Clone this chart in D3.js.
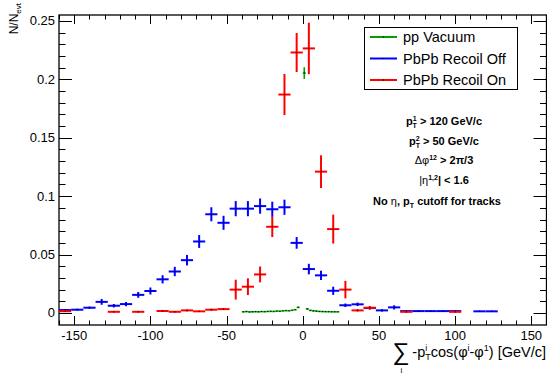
<!DOCTYPE html>
<html>
<head>
<meta charset="utf-8">
<script src="https://cdn.jsdelivr.net/npm/d3@7"></script>
<style>
  body { margin: 0; background: #fff; }
  svg { display: block; font-family: "Liberation Sans", Arial, sans-serif; }
</style>
</head>
<body>
<div id="chart"></div>
<script>
// bin centres, contents and errors
var blueX = [-156,-148,-140,-132,-124,-116,-108,-100,-92,-84,-76,-68,-60,-52,-44,-36,-28,-20,-12,-4,4,12,20,28,36,44,52,60,68,76,84,92,100,116,124];
var blueY = [0.0025,0.0028,0.0045,0.0095,0.0062,0.0076,0.0155,0.0188,0.0288,0.0355,0.0452,0.0612,0.0845,0.0772,0.0893,0.0893,0.0915,0.0888,0.0905,0.0600,0.0376,0.0322,0.0190,0.0066,0.0074,0.0042,0.0022,0.0048,0.0016,0.0016,0.0016,0.0016,0.0016,0.0014,0.0014];
var blueE = [0.0008,0.0008,0.001,0.0025,0.0015,0.0018,0.0025,0.003,0.0035,0.004,0.0045,0.0055,0.006,0.006,0.0065,0.0065,0.0065,0.0065,0.0065,0.005,0.0045,0.004,0.0035,0.0015,0.0015,0.0012,0.001,0.0018,0.0005,0.0005,0.0005,0.0005,0.0005,0.0005,0.0005];

var redX = [-156,-124,-108,-92,-84,-76,-68,-60,-52,-44,-36,-28,-20,-12,-4,4,12,20,28,36,44,68,100];
var redY = [0.0015,0.001,0.001,0.0017,0.001,0.0022,0.0014,0.0028,0.0033,0.0200,0.0225,0.0330,0.0738,0.1870,0.2230,0.2265,0.1210,0.0718,0.0200,0.0022,0.0045,0.0010,0.0010];
var redE = [0.0006,0.0006,0.0006,0.0008,0.0006,0.0008,0.0006,0.0008,0.0008,0.0085,0.0072,0.0068,0.0088,0.0176,0.0167,0.022,0.014,0.0124,0.0075,0.001,0.0015,0.0006,0.0006];

var greenX = [-39,-37,-35,-33,-31,-29,-27,-25,-23,-21,-19,-17,-15,-13,-11,-9,-7,-5,-3,1,3,5,7,9,11,13,15,17,19,21,23];
var greenY = [0.0010,0.0012,0.0009,0.0010,0.0011,0.0010,0.0012,0.0011,0.0013,0.0014,0.0013,0.0016,0.0015,0.0018,0.0020,0.0019,0.0023,0.0028,0.0048,0.2054,0.0035,0.0022,0.0018,0.0016,0.0013,0.0012,0.0011,0.0011,0.0010,0.0010,0.0010];
var greenE = [0.0002,0.0002,0.0002,0.0002,0.0002,0.0002,0.0002,0.0002,0.0002,0.0002,0.0002,0.0002,0.0002,0.0002,0.0003,0.0003,0.0003,0.0003,0.0005,0.005,0.0004,0.0003,0.0003,0.0002,0.0002,0.0002,0.0002,0.0002,0.0002,0.0002,0.0002];

var legendNames = ["pp Vacuum", "PbPb Recoil Off", "PbPb Recoil On"];
var colors = ["#00a000", "#0000ff", "#ff0000"];

var width = 547, height = 376;
var frame = {left: 59, right: 546.5, top: 15, bottom: 325};

var svg = d3.select("#chart").append("svg")
    .attr("width", width)
    .attr("height", height);

var xScale = d3.scaleLinear().domain([-160, 160]).range([frame.left, frame.right]);
var yScale = d3.scaleLinear().domain([-0.0103, 0.2551]).range([frame.bottom, frame.top]);

// frame
svg.append("rect")
  .attr("x", frame.left).attr("y", frame.top)
  .attr("width", frame.right - frame.left).attr("height", frame.bottom - frame.top)
  .attr("fill", "none").attr("stroke", "#000").attr("stroke-width", 1.3);

// ROOT style ticks, pointing inward on all four sides
var xMajor = d3.range(-150, 151, 50), xMinor = d3.range(-160, 161, 10);
var yMajor = d3.range(0, 0.2501, 0.05), yMinor = d3.range(-0.01, 0.2551, 0.01);

var ticks = svg.append("g").attr("stroke", "#000").attr("stroke-width", 1);
xMinor.forEach(function(v) {
  var major = xMajor.some(function(m) { return Math.abs(m - v) < 1e-6; });
  var len = major ? 9 : 4.5, x = Math.round(xScale(v)) + 0.5;
  ticks.append("line").attr("x1", x).attr("x2", x).attr("y1", frame.bottom).attr("y2", frame.bottom - len);
  ticks.append("line").attr("x1", x).attr("x2", x).attr("y1", frame.top).attr("y2", frame.top + len);
});
yMinor.forEach(function(v) {
  var major = yMajor.some(function(m) { return Math.abs(m - v) < 1e-6; });
  var len = major ? 13 : 6.5, y = Math.round(yScale(v)) + 0.5;
  if (y > frame.bottom || y < frame.top) return;
  ticks.append("line").attr("x1", frame.left).attr("x2", frame.left + len).attr("y1", y).attr("y2", y);
  ticks.append("line").attr("x1", frame.right).attr("x2", frame.right - len).attr("y1", y).attr("y2", y);
});

// tick labels
svg.append("g").selectAll("text").data(xMajor).enter().append("text")
  .attr("x", function(d) { return xScale(d); })
  .attr("y", 340)
  .attr("text-anchor", "middle")
  .attr("font-size", 13)
  .text(function(d) { return d; });

svg.append("g").selectAll("text").data(yMajor).enter().append("text")
  .attr("x", 55)
  .attr("y", function(d) { return yScale(d) + 4.5; })
  .attr("text-anchor", "end")
  .attr("font-size", 13)
  .text(function(d) { return d3.format("~g")(+d.toFixed(2)); });

// histograms drawn as error crosses
function drawHist(xs, ys, es, half, color, lw) {
  var g = svg.append("g");
  var pts = xs.map(function(x, i) { return {x: x, y: ys[i], e: es[i]}; });
  g.selectAll(".h").data(pts).enter().append("line")
    .attr("x1", function(d) { return xScale(d.x - half); })
    .attr("x2", function(d) { return xScale(d.x + half); })
    .attr("y1", function(d) { return yScale(d.y); })
    .attr("y2", function(d) { return yScale(d.y); })
    .attr("stroke", color).attr("stroke-width", lw);
  g.selectAll(".v").data(pts).enter().append("line")
    .attr("x1", function(d) { return xScale(d.x); })
    .attr("x2", function(d) { return xScale(d.x); })
    .attr("y1", function(d) { return yScale(d.y - d.e); })
    .attr("y2", function(d) { return yScale(d.y + d.e); })
    .attr("stroke", color).attr("stroke-width", lw);
  g.selectAll(".m").data(pts).enter().append("rect")
    .attr("x", function(d) { return xScale(d.x) - 0.5; })
    .attr("y", function(d) { return yScale(d.y) - 0.5; })
    .attr("width", 1).attr("height", 1)
    .attr("fill", "#000");
}
drawHist(greenX, greenY, greenE, 1, colors[0], 1.6);
drawHist(blueX, blueY, blueE, 4, colors[1], 2);
drawHist(redX, redY, redE, 4, colors[2], 2);

// legend
var leg = svg.append("g");
leg.append("rect").attr("x", 364.5).attr("y", 27.5).attr("width", 153).attr("height", 62)
  .attr("fill", "#fff").attr("stroke", "#000").attr("stroke-width", 1);
legendNames.forEach(function(name, i) {
  var cy = 37 + i * 21.5;
  leg.append("line").attr("x1", 370).attr("x2", 397).attr("y1", cy).attr("y2", cy)
    .attr("stroke", colors[i]).attr("stroke-width", 2);
  leg.append("rect").attr("x", 383).attr("y", cy - 0.5).attr("width", 1).attr("height", 1).attr("fill", "#000");
  leg.append("text").attr("x", 403).attr("y", cy + 5).attr("font-size", 14.5).text(name);
});

// cut annotations
var notes = svg.append("g").attr("font-size", 11).attr("font-weight", "bold").attr("text-anchor", "middle");
var t1 = notes.append("text").attr("x", 444).attr("y", 125);
t1.append("tspan").text("p");
t1.append("tspan").attr("font-size", 7).attr("dy", -4).text("1");
t1.append("tspan").attr("font-size", 7).attr("dx", -4).attr("dy", 7).text("T");
t1.append("tspan").attr("dy", -3).text(" > 120 GeV/c");
var t2 = notes.append("text").attr("x", 444).attr("y", 145);
t2.append("tspan").text("p");
t2.append("tspan").attr("font-size", 7).attr("dy", -4).text("2");
t2.append("tspan").attr("font-size", 7).attr("dx", -4).attr("dy", 7).text("T");
t2.append("tspan").attr("dy", -3).text(" > 50 GeV/c");
var t3 = notes.append("text").attr("x", 444).attr("y", 164);
t3.append("tspan").attr("font-weight", "normal").text("\u0394\u03c6");
t3.append("tspan").attr("font-size", 7).attr("dy", -4).text("12");
t3.append("tspan").attr("dy", 4).text(" > 2\u03c0/3");
var t4 = notes.append("text").attr("x", 444).attr("y", 184);
t4.append("tspan").attr("font-weight", "normal").text("|\u03b7");
t4.append("tspan").attr("font-size", 7).attr("dy", -4).text("1,2");
t4.append("tspan").attr("dy", 4).text("| < 1.6");
var t5 = notes.append("text").attr("x", 437).attr("y", 205);
t5.append("tspan").text("No ");
t5.append("tspan").attr("font-weight", "normal").text("\u03b7");
t5.append("tspan").text(", p");
t5.append("tspan").attr("font-size", 7).attr("dy", 3).text("T");
t5.append("tspan").attr("dy", -3).text(" cutoff for tracks");

// axis titles
var xt = svg.append("text").attr("x", 546).attr("y", 357).attr("text-anchor", "end").attr("font-size", 14.5);
xt.append("tspan").text("-p");
xt.append("tspan").attr("font-size", 9).attr("dy", -6).text("i");
xt.append("tspan").attr("font-size", 9).attr("dx", -2).attr("dy", 9).text("T");
xt.append("tspan").attr("dy", -3).text("cos(\u03c6");
xt.append("tspan").attr("font-size", 9).attr("dy", -6).text("i");
xt.append("tspan").attr("dy", 6).text("-\u03c6");
xt.append("tspan").attr("font-size", 9).attr("dy", -6).text("1");
xt.append("tspan").attr("dy", 6).text(") [GeV/c]");
var bb = xt.node().getBBox();
svg.append("text").attr("x", bb.x - 3).attr("y", 360).attr("text-anchor", "end")
  .attr("font-size", 24).text("\u2211");
svg.append("text").attr("x", bb.x - 11).attr("y", 373).attr("text-anchor", "middle")
  .attr("font-size", 8).text("i");

var yt = svg.append("text").attr("transform", "translate(18,3) rotate(-90)")
  .attr("text-anchor", "end").attr("font-size", 12);
yt.append("tspan").text("N/N");
yt.append("tspan").attr("font-size", 8).attr("dy", 3).text("evt");
</script>
</body>
</html>
